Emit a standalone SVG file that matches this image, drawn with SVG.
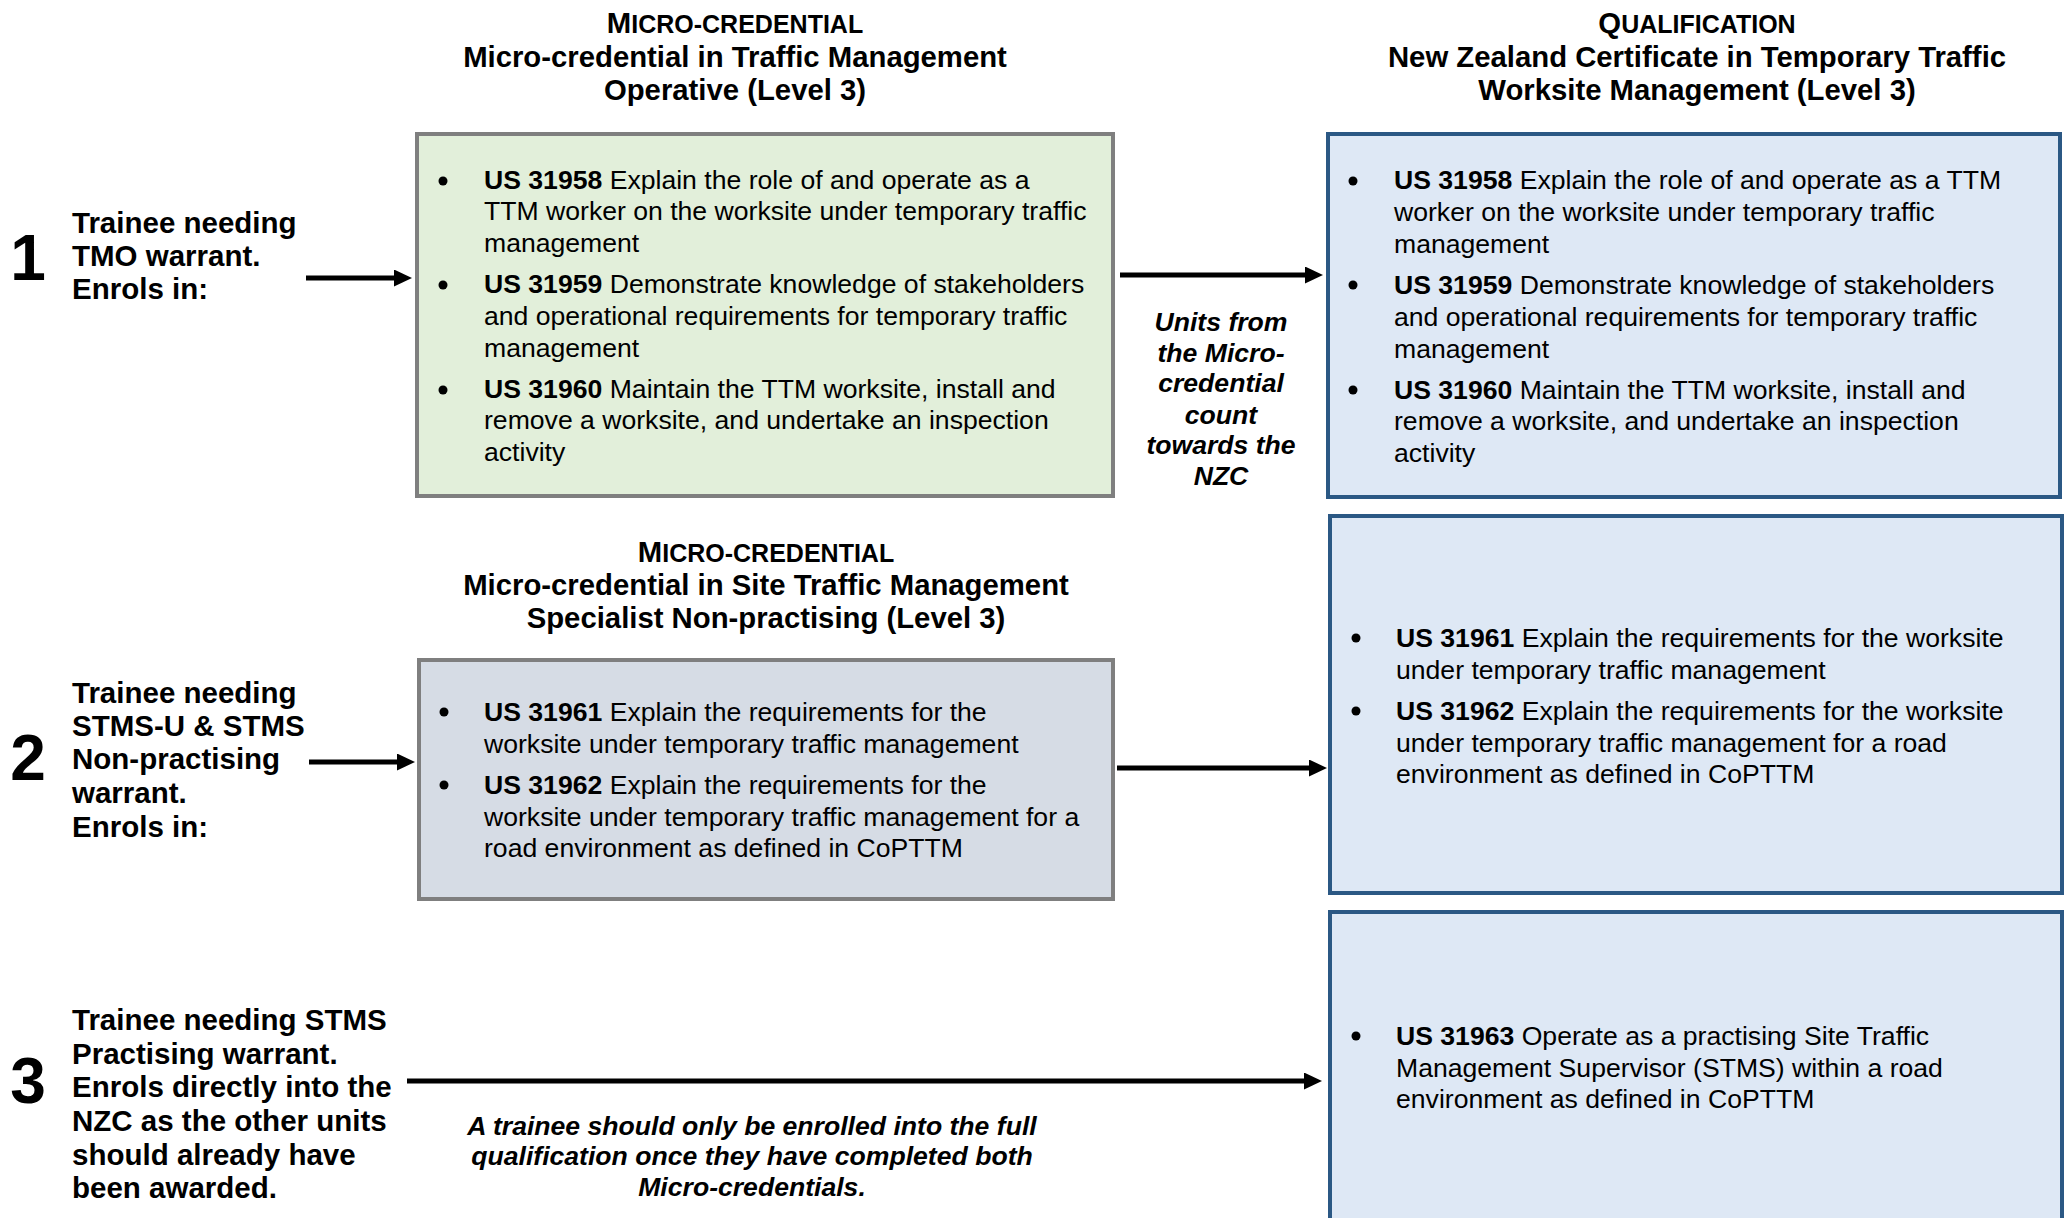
<svg xmlns="http://www.w3.org/2000/svg" width="2072" height="1218" viewBox="0 0 2072 1218">
<defs>
<marker id="ah" markerUnits="userSpaceOnUse" markerWidth="20" markerHeight="18" refX="2" refY="8.5" orient="auto">
<path d="M0,0 L18,8.5 L0,17 z" fill="#000"/>
</marker>
<style>
text{font-family:"Liberation Sans",Arial,sans-serif;fill:#000}
.hd{font-size:29.3px;font-weight:bold;text-anchor:middle}
.sc{font-size:25px}
.lbl{font-size:29.5px;font-weight:bold}
.num{font-size:64px;font-weight:bold;text-anchor:middle}
.body{font-size:26.6px}
.b{font-weight:bold}
.note{font-size:26.6px;font-weight:bold;font-style:italic;text-anchor:middle}
.green{fill:#E2EFDA;stroke:#7F7F7F;stroke-width:4}
.grey{fill:#D6DCE5;stroke:#7F7F7F;stroke-width:4}
.blue{fill:#DEE8F5;stroke:#2B5884;stroke-width:4}
.conn line{stroke:#000;stroke-width:5;marker-end:url(#ah)}
</style>
</defs>
<rect width="2072" height="1218" fill="#fff"/>

<g id="header-mc1">
<text class="hd" x="735" y="33">M<tspan class="sc">ICRO-CREDENTIAL</tspan></text>
<text class="hd" x="735" y="67">Micro-credential in Traffic Management</text>
<text class="hd" x="735" y="100">Operative (Level 3)</text>
</g>
<g id="header-qual">
<text class="hd" x="1697" y="33">Q<tspan class="sc">UALIFICATION</tspan></text>
<text class="hd" x="1697" y="67">New Zealand Certificate in Temporary Traffic</text>
<text class="hd" x="1697" y="100">Worksite Management (Level 3)</text>
</g>
<g id="header-mc2">
<text class="hd" x="766" y="562">M<tspan class="sc">ICRO-CREDENTIAL</tspan></text>
<text class="hd" x="766" y="595">Micro-credential in Site Traffic Management</text>
<text class="hd" x="766" y="628">Specialist Non-practising (Level 3)</text>
</g>

<g id="trainee1">
<text class="num" x="28" y="280">1</text>
<text class="lbl" x="72" y="233">Trainee needing</text>
<text class="lbl" x="72" y="266">TMO warrant.</text>
<text class="lbl" x="72" y="299">Enrols in:</text>
</g>
<g id="trainee2">
<text class="num" x="28" y="780">2</text>
<text class="lbl" x="72" y="703">Trainee needing</text>
<text class="lbl" x="72" y="736">STMS-U &amp; STMS</text>
<text class="lbl" x="72" y="769">Non-practising</text>
<text class="lbl" x="72" y="803">warrant.</text>
<text class="lbl" x="72" y="837">Enrols in:</text>
</g>
<g id="trainee3">
<text class="num" x="28" y="1103">3</text>
<text class="lbl" x="72" y="1030">Trainee needing STMS</text>
<text class="lbl" x="72" y="1064">Practising warrant.</text>
<text class="lbl" x="72" y="1097">Enrols directly into the</text>
<text class="lbl" x="72" y="1131">NZC as the other units</text>
<text class="lbl" x="72" y="1165">should already have</text>
<text class="lbl" x="72" y="1198">been awarded.</text>
</g>

<g id="mc1-box">
<rect class="green" x="417" y="134" width="696" height="362"/>
<circle cx="443" cy="181" r="4.5"/>
<circle cx="443" cy="285" r="4.5"/>
<circle cx="443" cy="390" r="4.5"/>
<text class="body" x="484" y="189"><tspan class="b">US 31958</tspan> Explain the role of and operate as a</text>
<text class="body" x="484" y="220">TTM worker on the worksite under temporary traffic</text>
<text class="body" x="484" y="252">management</text>
<text class="body" x="484" y="293"><tspan class="b">US 31959</tspan> Demonstrate knowledge of stakeholders</text>
<text class="body" x="484" y="325">and operational requirements for temporary traffic</text>
<text class="body" x="484" y="357">management</text>
<text class="body" x="484" y="398"><tspan class="b">US 31960</tspan> Maintain the TTM worksite, install and</text>
<text class="body" x="484" y="429">remove a worksite, and undertake an inspection</text>
<text class="body" x="484" y="461">activity</text>
</g>

<g id="qual-box1">
<rect class="blue" x="1328" y="134" width="732" height="363"/>
<circle cx="1353" cy="181" r="4.5"/>
<circle cx="1353" cy="285" r="4.5"/>
<circle cx="1353" cy="390" r="4.5"/>
<text class="body" x="1394" y="189"><tspan class="b">US 31958</tspan> Explain the role of and operate as a TTM</text>
<text class="body" x="1394" y="221">worker on the worksite under temporary traffic</text>
<text class="body" x="1394" y="253">management</text>
<text class="body" x="1394" y="294"><tspan class="b">US 31959</tspan> Demonstrate knowledge of stakeholders</text>
<text class="body" x="1394" y="326">and operational requirements for temporary traffic</text>
<text class="body" x="1394" y="358">management</text>
<text class="body" x="1394" y="399"><tspan class="b">US 31960</tspan> Maintain the TTM worksite, install and</text>
<text class="body" x="1394" y="430">remove a worksite, and undertake an inspection</text>
<text class="body" x="1394" y="462">activity</text>
</g>

<g id="mc2-box">
<rect class="grey" x="419" y="660" width="694" height="239"/>
<circle cx="444" cy="712" r="4.5"/>
<circle cx="444" cy="785" r="4.5"/>
<text class="body" x="484" y="721"><tspan class="b">US 31961</tspan> Explain the requirements for the</text>
<text class="body" x="484" y="753">worksite under temporary traffic management</text>
<text class="body" x="484" y="794"><tspan class="b">US 31962</tspan> Explain the requirements for the</text>
<text class="body" x="484" y="826">worksite under temporary traffic management for a</text>
<text class="body" x="484" y="857">road environment as defined in CoPTTM</text>
</g>

<g id="qual-box2">
<rect class="blue" x="1330" y="516" width="732" height="377"/>
<circle cx="1356" cy="638" r="4.5"/>
<circle cx="1356" cy="711" r="4.5"/>
<text class="body" x="1396" y="647"><tspan class="b">US 31961</tspan> Explain the requirements for the worksite</text>
<text class="body" x="1396" y="679">under temporary traffic management</text>
<text class="body" x="1396" y="720"><tspan class="b">US 31962</tspan> Explain the requirements for the worksite</text>
<text class="body" x="1396" y="752">under temporary traffic management for a road</text>
<text class="body" x="1396" y="783">environment as defined in CoPTTM</text>
</g>

<g id="qual-box3">
<rect class="blue" x="1330" y="912" width="732" height="400"/>
<circle cx="1356" cy="1036" r="4.5"/>
<text class="body" x="1396" y="1045"><tspan class="b">US 31963</tspan> Operate as a practising Site Traffic</text>
<text class="body" x="1396" y="1077">Management Supervisor (STMS) within a road</text>
<text class="body" x="1396" y="1108">environment as defined in CoPTTM</text>
</g>

<g id="note-count">
<text class="note" x="1221" y="331">Units from</text>
<text class="note" x="1221" y="362">the Micro-</text>
<text class="note" x="1221" y="392">credential</text>
<text class="note" x="1221" y="424">count</text>
<text class="note" x="1221" y="454">towards the</text>
<text class="note" x="1221" y="485">NZC</text>
</g>
<g id="note-enrol">
<text class="note" x="752" y="1135">A trainee should only be enrolled into the full</text>
<text class="note" x="752" y="1165">qualification once they have completed both</text>
<text class="note" x="752" y="1196">Micro-credentials.</text>
</g>

<g id="connectors" class="conn">
<line x1="306" y1="278" x2="396" y2="278"/>
<line x1="1120" y1="275" x2="1307" y2="275"/>
<line x1="309" y1="762" x2="399" y2="762"/>
<line x1="1117" y1="768" x2="1311" y2="768"/>
<line x1="407" y1="1081" x2="1306" y2="1081"/>
</g>
</svg>
